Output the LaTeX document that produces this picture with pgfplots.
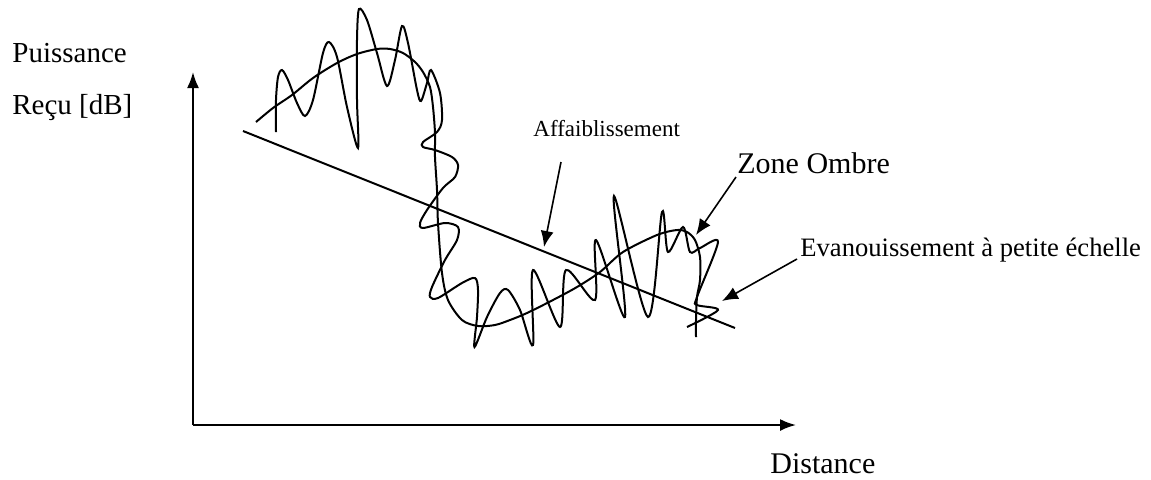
\documentclass[border=0pt]{standalone}
\usepackage{pgfplots}
\pgfplotsset{compat=1.18}
\usepackage{fontspec}
\setmainfont{Liberation Serif}
\usetikzlibrary{arrows.meta}

\begin{document}
\begin{tikzpicture}
\begin{axis}[
  scale only axis, width=575.5pt, height=239.5pt,
  xmin=0, xmax=1151, ymin=0, ymax=479, y dir=reverse,
  hide axis, clip=false,
]
\path (axis cs:0,0) rectangle (axis cs:1151,479);

% axes
\addplot[black, line width=1pt, -{Latex[length=8pt,width=6pt]}] coordinates {(193,425) (193,72)};
\addplot[black, line width=1pt, -{Latex[length=8pt,width=6pt]}] coordinates {(193,425) (796,425)};

% affaiblissement (droite)
\addplot[black, line width=1pt] coordinates {(243,131) (735,328)};

% zone ombre (variation lente)
\addplot[black, line width=1pt, smooth] coordinates {
(256,122) (273,108) (292,95) (313,78) (337,63) (357,54) (377,49) (390,49)
(403,53) (415,62) (423,72) (430,87) (433,107) (435,133) (435,157) (437,190)
(438,223) (442,273) (448,300) (462,320) (478,326) (495,325) (510,320) (527,313)
(553,300) (577,287) (600,272) (623,252) (657,235) (677,230) (687,232) (695,240)
(700,257) (700,280) (697,297) (696,320) (696,337)};

% evanouissement rapide
\addplot[black, line width=1pt, smooth] coordinates {
(276,132) (276,100) (278,77) (282,70) (288,80) (297,103) (305,116) (313,100)
(323,53) (329,42) (337,57) (347,107) (358,148) (357,100) (357,40) (359,9)
(367,20) (377,53) (387,86) (395,60) (402,26) (408,43) (417,90) (421,101)
(427,83) (431,70) (440,93) (442,120) (437,132) (423,142) (423,147) (435,150)
(452,157) (458,165) (455,177) (443,188) (427,210) (420,223) (423,228) (445,223)
(458,227) (457,240) (445,260) (432,287) (430,297) (438,298) (462,283) (475,278)
(478,290) (477,317) (474.5,347) (487,317) (500,293) (508,290) (520,310) (533,345)
(533,270) (560,327) (566,270) (595,300) (596,240) (625,317) (614,196) (648,317)
(662,212) (668,252) (683,227) (690,252) (700,248) (718,242) (697,297) (697,305)
(718,310) (687,327)};

% annotations
\draw[black, line width=0.8pt, -{Latex[length=8pt,width=6.5pt]}] (axis cs:561,162) -- (axis cs:544,247);
\draw[black, line width=0.8pt, -{Latex[length=8pt,width=6.5pt]}] (axis cs:736,177) -- (axis cs:696,235);
\draw[black, line width=0.8pt, -{Latex[length=8pt,width=6.5pt]}] (axis cs:797,259) -- (axis cs:722,301);

\node[anchor=base west, inner sep=0pt, font=\fontsize{14.5}{17}\selectfont] at (axis cs:12,62) {Puissance};
\node[anchor=base west, inner sep=0pt, font=\fontsize{14.5}{17}\selectfont] at (axis cs:12,114) {Reçu [dB]};
\node[anchor=base west, inner sep=0pt, font=\fontsize{15}{18}\selectfont] at (axis cs:770,473) {Distance};
\node[anchor=base west, inner sep=0pt, font=\fontsize{11.5}{14}\selectfont] at (axis cs:533,136) {Affaiblissement};
\node[anchor=base west, inner sep=0pt, font=\fontsize{15}{18}\selectfont] at (axis cs:737,173) {Zone Ombre};
\node[anchor=base west, inner sep=0pt, font=\fontsize{13.3}{16}\selectfont] at (axis cs:800,256) {Evanouissement à petite échelle};
\end{axis}
\end{tikzpicture}
\end{document}
